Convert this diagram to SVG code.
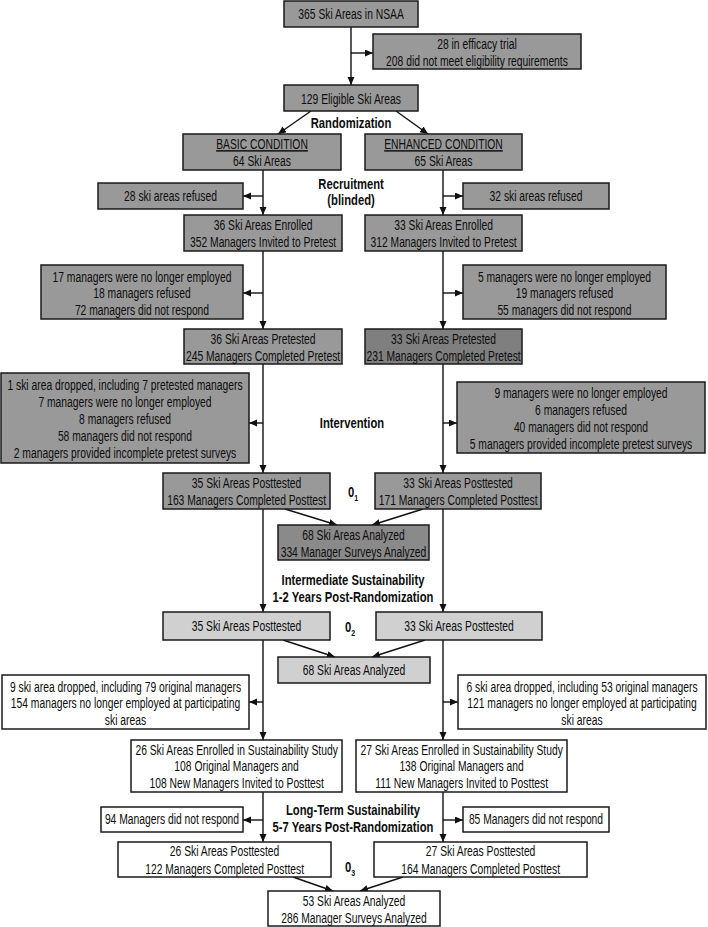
<svg xmlns="http://www.w3.org/2000/svg" width="708" height="927" viewBox="0 0 708 927">
<style>
.bx{stroke:#1a1a1a;stroke-width:1.5}
.g{fill:#999999}
.d{fill:#7f7f7f}
.m{fill:#8a8a8a}
.l{fill:#d0d0d0}
.w{fill:#ffffff}
.t{font-family:"Liberation Sans",Arial,sans-serif;font-size:14.5px;fill:#0d0d0d;text-anchor:middle;transform-box:fill-box;transform-origin:center;transform:scaleX(0.712)}
.b{font-family:"Liberation Sans",Arial,sans-serif;font-size:14.5px;font-weight:bold;fill:#0d0d0d;text-anchor:middle;transform-box:fill-box;transform-origin:center;transform:scaleX(0.775)}
.u{text-decoration:underline}
.c line{stroke:#111;stroke-width:1.4;fill:none}
.c .a{marker-end:url(#ah)}
</style>
<defs>
<marker id="ah" markerUnits="userSpaceOnUse" markerWidth="9" markerHeight="8" refX="8" refY="3.5" orient="auto">
<path d="M0,0 L8,3.5 L0,7 z" fill="#111"/>
</marker>
</defs>
<rect width="708" height="927" fill="#ffffff"/>

<g id="connectors" class="c">
<line class="a" x1="351" y1="27" x2="351" y2="85"/>
<line class="a" x1="351" y1="53" x2="373" y2="53"/>
<line class="a" x1="311" y1="111" x2="278" y2="134"/>
<line class="a" x1="396" y1="111" x2="428" y2="134"/>
<line class="a" x1="263" y1="170" x2="263" y2="215"/>
<line class="a" x1="263" y1="196" x2="243" y2="196"/>
<line class="a" x1="443" y1="170" x2="443" y2="215"/>
<line class="a" x1="443" y1="196" x2="463" y2="196"/>
<line class="a" x1="263" y1="251" x2="263" y2="329"/>
<line class="a" x1="263" y1="293" x2="243" y2="293"/>
<line class="a" x1="443" y1="251" x2="443" y2="329"/>
<line class="a" x1="443" y1="293" x2="463" y2="293"/>
<line class="a" x1="263" y1="364" x2="263" y2="473"/>
<line class="a" x1="263" y1="423" x2="249" y2="423"/>
<line class="a" x1="443" y1="364" x2="443" y2="473"/>
<line class="a" x1="443" y1="423" x2="457" y2="423"/>
<line class="a" x1="285" y1="509" x2="337" y2="525"/>
<line class="a" x1="423" y1="509" x2="372" y2="525"/>
<line class="a" x1="263" y1="509" x2="263" y2="612"/>
<line class="a" x1="443" y1="509" x2="443" y2="612"/>
<line class="a" x1="283" y1="640" x2="335" y2="657"/>
<line class="a" x1="425" y1="640" x2="372" y2="657"/>
<line class="a" x1="263" y1="640" x2="263" y2="740"/>
<line class="a" x1="263" y1="702" x2="249" y2="702"/>
<line class="a" x1="443" y1="640" x2="443" y2="740"/>
<line class="a" x1="443" y1="702" x2="458" y2="702"/>
<line class="a" x1="263" y1="792" x2="263" y2="842"/>
<line class="a" x1="263" y1="820" x2="243" y2="820"/>
<line class="a" x1="443" y1="792" x2="443" y2="842"/>
<line class="a" x1="443" y1="820" x2="463" y2="820"/>
<line class="a" x1="293" y1="877" x2="333" y2="891"/>
<line class="a" x1="403" y1="877" x2="360" y2="891"/>
</g>

<g id="n1"><rect class="bx g" x="284" y="1" width="134" height="26"/><text class="t" x="351" y="19">365 Ski Areas in NSAA</text></g>
<g id="n2"><rect class="bx g" x="373" y="34" width="208" height="35"/><text class="t" x="477" y="49">28 in efficacy trial<tspan x="477" dy="17">208 did not meet eligibility requirements</tspan></text></g>
<g id="n3"><rect class="bx g" x="284" y="85" width="134" height="26"/><text class="t" x="351" y="104">129 Eligible Ski Areas</text></g>
<g id="lbl-rand"><text class="b" x="351" y="128">Randomization</text></g>
<g id="n4"><rect class="bx g" x="183" y="134" width="158" height="36"/><text class="t" x="262" y="149"><tspan class="u">BASIC CONDITION</tspan><tspan x="262" dy="17">64 Ski Areas</tspan></text></g>
<g id="n5"><rect class="bx g" x="365" y="134" width="157" height="36"/><text class="t" x="443.5" y="149"><tspan class="u">ENHANCED CONDITION</tspan><tspan x="443.5" dy="17">65 Ski Areas</tspan></text></g>
<g id="n6"><rect class="bx g" x="98" y="183" width="145" height="26"/><text class="t" x="170.5" y="201">28 ski areas refused</text></g>
<g id="n7"><rect class="bx g" x="463" y="183" width="146" height="26"/><text class="t" x="536" y="201">32 ski areas refused</text></g>
<g id="lbl-recr"><text class="b" x="351" y="189">Recruitment<tspan x="351" dy="16">(blinded)</tspan></text></g>
<g id="n8"><rect class="bx g" x="184" y="215" width="158" height="36"/><text class="t" x="263" y="230">36 Ski Areas Enrolled<tspan x="263" dy="17">352 Managers Invited to Pretest</tspan></text></g>
<g id="n9"><rect class="bx g" x="365" y="215" width="157" height="36"/><text class="t" x="443.5" y="230">33 Ski Areas Enrolled<tspan x="443.5" dy="17">312 Managers Invited to Pretest</tspan></text></g>
<g id="n10"><rect class="bx g" x="41" y="265" width="202" height="54"/><text class="t" x="142" y="282">17 managers were no longer employed<tspan x="142" dy="16.3">18 managers refused</tspan><tspan x="142" dy="16.3">72 managers did not respond</tspan></text></g>
<g id="n11"><rect class="bx g" x="463" y="265" width="203" height="54"/><text class="t" x="564.5" y="282">5 managers were no longer employed<tspan x="564.5" dy="16.3">19 managers refused</tspan><tspan x="564.5" dy="16.3">55 managers did not respond</tspan></text></g>
<g id="n12"><rect class="bx g" x="184" y="329" width="158" height="35"/><text class="t" x="263" y="344">36 Ski Areas Pretested<tspan x="263" dy="17">245 Managers Completed Pretest</tspan></text></g>
<g id="n13"><rect class="bx d" x="365" y="329" width="157" height="35"/><text class="t" x="443.5" y="344">33 Ski Areas Pretested<tspan x="443.5" dy="17">231 Managers Completed Pretest</tspan></text></g>
<g id="n14"><rect class="bx g" x="1" y="373" width="248" height="90"/><text class="t" x="125" y="390">1 ski area dropped, including 7 pretested managers<tspan x="125" dy="17">7 managers were no longer employed</tspan><tspan x="125" dy="17">8 managers refused</tspan><tspan x="125" dy="17">58 managers did not respond</tspan><tspan x="125" dy="17">2 managers provided incomplete pretest surveys</tspan></text></g>
<g id="n15"><rect class="bx g" x="457" y="382" width="248" height="71"/><text class="t" x="581" y="398">9 managers were no longer employed<tspan x="581" dy="17">6 managers refused</tspan><tspan x="581" dy="17">40 managers did not respond</tspan><tspan x="581" dy="17">5 managers provided incomplete pretest surveys</tspan></text></g>
<g id="lbl-int"><text class="b" x="352" y="428">Intervention</text></g>
<g id="n16"><rect class="bx g" x="163" y="473" width="167" height="36"/><text class="t" x="246.5" y="488">35 Ski Areas Posttested<tspan x="246.5" dy="17">163 Managers Completed Posttest</tspan></text></g>
<g id="n17"><rect class="bx g" x="375" y="473" width="166" height="36"/><text class="t" x="458" y="488">33 Ski Areas Posttested<tspan x="458" dy="17">171 Managers Completed Posttest</tspan></text></g>
<g id="o1"><text class="b" x="353" y="497">0<tspan font-size="9" dy="4">1</tspan></text></g>
<g id="n18"><rect class="bx m" x="278" y="525" width="151" height="35"/><text class="t" x="353.5" y="540">68 Ski Areas Analyzed<tspan x="353.5" dy="17">334 Manager Surveys Analyzed</tspan></text></g>
<g id="lbl-inter"><text class="b" x="353" y="585">Intermediate Sustainability<tspan x="353" dy="17">1-2 Years Post-Randomization</tspan></text></g>
<g id="n19"><rect class="bx l" x="163" y="612" width="167" height="28"/><text class="t" x="246.5" y="631">35 Ski Areas Posttested</text></g>
<g id="n20"><rect class="bx l" x="376" y="612" width="166" height="28"/><text class="t" x="459" y="631">33 Ski Areas Posttested</text></g>
<g id="o2"><text class="b" x="350" y="632">0<tspan font-size="9" dy="4">2</tspan></text></g>
<g id="n21"><rect class="bx l" x="278" y="657" width="152" height="26"/><text class="t" x="354" y="675">68 Ski Areas Analyzed</text></g>
<g id="n22"><rect class="bx w" x="2" y="675" width="247" height="54"/><text class="t" x="125.5" y="692">9 ski area dropped, including 79 original managers<tspan x="125.5" dy="16.5">154 managers no longer employed at participating</tspan><tspan x="125.5" dy="16.5">ski areas</tspan></text></g>
<g id="n23"><rect class="bx w" x="458" y="675" width="248" height="54"/><text class="t" x="582" y="692">6 ski area dropped, including 53 original managers<tspan x="582" dy="16.5">121 managers no longer employed at participating</tspan><tspan x="582" dy="16.5">ski areas</tspan></text></g>
<g id="n24"><rect class="bx w" x="131" y="740" width="211" height="52"/><text class="t" x="236.5" y="755">26 Ski Areas Enrolled in Sustainability Study<tspan x="236.5" dy="16.5">108 Original Managers and</tspan><tspan x="236.5" dy="16.5">108 New Managers Invited to Posttest</tspan></text></g>
<g id="n25"><rect class="bx w" x="356" y="740" width="211" height="52"/><text class="t" x="461.5" y="755">27 Ski Areas Enrolled in Sustainability Study<tspan x="461.5" dy="16.5">138 Original Managers and</tspan><tspan x="461.5" dy="16.5">111 New Managers Invited to Posttest</tspan></text></g>
<g id="n26"><rect class="bx w" x="101" y="807" width="142" height="25"/><text class="t" x="172" y="824">94 Managers did not respond</text></g>
<g id="n27"><rect class="bx w" x="463" y="807" width="146" height="25"/><text class="t" x="536" y="824">85 Managers did not respond</text></g>
<g id="lbl-long"><text class="b" x="353" y="815">Long-Term Sustainability<tspan x="353" dy="17">5-7 Years Post-Randomization</tspan></text></g>
<g id="n28"><rect class="bx w" x="118" y="842" width="213" height="35"/><text class="t" x="224.5" y="856.5">26 Ski Areas Posttested<tspan x="224.5" dy="17.5">122 Managers Completed Posttest</tspan></text></g>
<g id="n29"><rect class="bx w" x="374" y="842" width="213" height="35"/><text class="t" x="480.5" y="856.5">27 Ski Areas Posttested<tspan x="480.5" dy="17.5">164 Managers Completed Posttest</tspan></text></g>
<g id="o3"><text class="b" x="350" y="872">0<tspan font-size="9" dy="4">3</tspan></text></g>
<g id="n30"><rect class="bx w" x="268" y="891" width="172" height="35"/><text class="t" x="354" y="906.5">53 Ski Areas Analyzed<tspan x="354" dy="16.5">286 Manager Surveys Analyzed</tspan></text></g>
</svg>
